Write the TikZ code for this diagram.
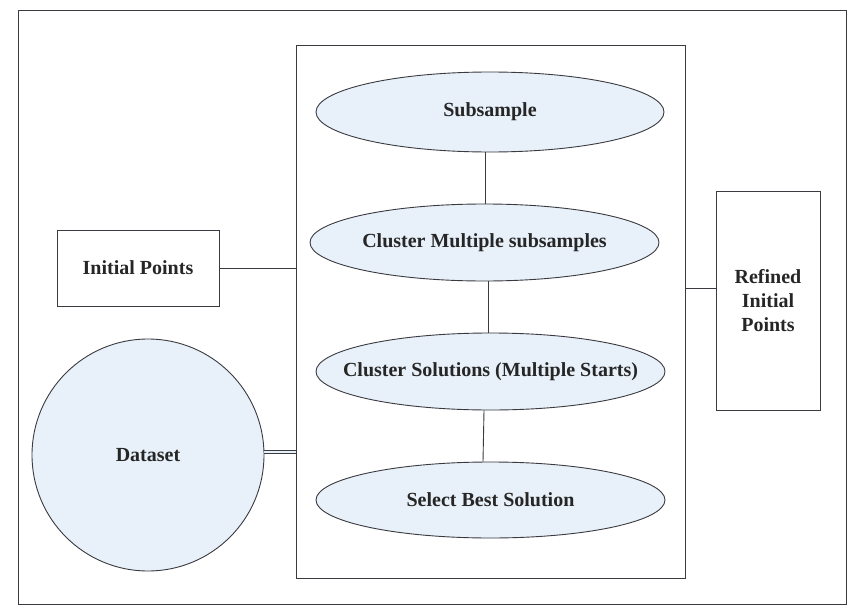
\documentclass[tikz,border=0pt]{standalone}
\usepackage{fontspec}
\setmainfont{Liberation Serif}
\usetikzlibrary{shapes.geometric}
\definecolor{lineC}{HTML}{3A3A40}
\definecolor{fillC}{HTML}{E8F1F9}
\begin{document}
\begin{tikzpicture}[x=1pt,y=-1pt,
  txt/.style={font=\bfseries\fontsize{20}{24}\selectfont, text=black!85},
  ell/.style={ellipse, draw=lineC, fill=fillC, line width=0.9pt, inner xsep=-60pt, inner ysep=0pt, txt},
  boxn/.style={rectangle, draw=lineC, line width=0.9pt, inner sep=0pt, txt},
  conn/.style={draw=lineC, line width=0.9pt}]
\useasboundingbox (0,0) rectangle (857,613);
\node[boxn, minimum width=828, minimum height=594] (frame) at (432,307) {};
\node[boxn, minimum width=389, minimum height=533] (inner) at (490.5,311.5) {};
\node[ell, minimum width=348, minimum height=80] (sub) at (490,112) {Subsample};
\node[ell, minimum width=349, minimum height=77] (cms) at (484.5,242.5) {Cluster Multiple subsamples};
\node[ell, minimum width=349, minimum height=77] (cs) at (490.5,371.5) {Cluster Solutions (Multiple Starts)};
\node[ell, minimum width=349, minimum height=76] (sbs) at (490.5,500) {Select Best Solution};
\node[boxn, minimum width=162, minimum height=76] (ip) at (138,268) {Initial Points};
\node[circle, draw=lineC, fill=fillC, line width=0.9pt, minimum size=232, inner sep=0pt, txt] (ds) at (148,455) {Dataset};
\node[boxn, minimum width=104, minimum height=219, align=center, text width=100] (ref) at (768,300.5) {Refined\\Initial\\Points};
\draw[conn] ([xshift=-5]sub.south) -- ([xshift=0.5]cms.north);
\draw[conn] ([xshift=3.5]cms.south) -- ([xshift=-2.5]cs.north);
\draw[conn] ([xshift=-6.5]cs.south) -- ([xshift=-7.5]sbs.north);
\draw[conn] (ip.east) -- (ip.east -| inner.west);
\draw[draw=lineC, line width=0.9pt, double=fillC, double distance=1.5pt] ([yshift=3]ds.east) -- ([yshift=3]ds.east -| inner.west);
\draw[conn] ([yshift=12.5]ref.west) -- ([yshift=12.5]ref.west -| inner.east);
\end{tikzpicture}
\end{document}
